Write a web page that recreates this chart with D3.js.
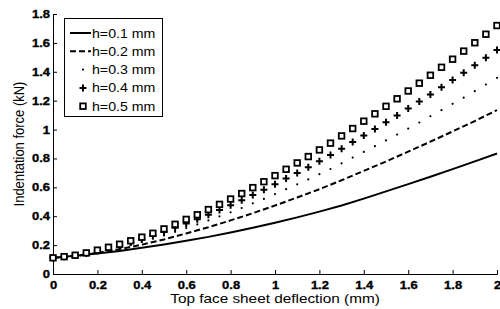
<!DOCTYPE html>
<html>
<head>
<meta charset="utf-8">
<script src="https://cdn.jsdelivr.net/npm/d3@7"></script>
<style>
  body { margin: 0; background: #fff; }
  svg { display: block; font-family: "Liberation Sans", Arial, sans-serif; }
  .axis-title { font-size: 13px; fill: #000; }
  .legend-text { font-size: 12px; fill: #000; }
</style>
</head>
<body>
<div id="chart"></div>
<script>
// Deflection grid for the marker series (every 0.05 mm)
const xMarkers = [0, 0.05, 0.1, 0.15, 0.2, 0.25, 0.3, 0.35, 0.4, 0.45, 0.5, 0.55, 0.6, 0.65, 0.7,
  0.75, 0.8, 0.85, 0.9, 0.95, 1.0, 1.05, 1.1, 1.15, 1.2, 1.25, 1.3, 1.35, 1.4, 1.45, 1.5,
  1.55, 1.6, 1.65, 1.7, 1.75, 1.8, 1.85, 1.9, 1.95, 2.0];

// Deflection grid for the line series (every 0.1 mm)
const xLines = [0, 0.1, 0.2, 0.3, 0.4, 0.5, 0.6, 0.7, 0.8, 0.9, 1.0, 1.1, 1.2, 1.3, 1.4, 1.5,
  1.6, 1.7, 1.8, 1.9, 2.0];

// Indentation force (kN)
const h01 = [0.112, 0.126, 0.142, 0.160, 0.181, 0.204, 0.230, 0.257, 0.288, 0.320, 0.355,
  0.392, 0.432, 0.474, 0.522, 0.572, 0.622, 0.673, 0.726, 0.780, 0.834];

const h02 = [0.112, 0.123, 0.146, 0.172, 0.203, 0.239, 0.281, 0.324, 0.371, 0.421, 0.474,
  0.530, 0.587, 0.649, 0.714, 0.779, 0.847, 0.916, 0.987, 1.059, 1.135];

const h03 = [0.112, 0.118, 0.126, 0.138, 0.153, 0.169, 0.185, 0.203, 0.223, 0.244, 0.267,
  0.292, 0.318, 0.343, 0.371, 0.399, 0.427, 0.457, 0.489, 0.520, 0.553, 0.587, 0.621,
  0.655, 0.691, 0.727, 0.766, 0.806, 0.845, 0.885, 0.925, 0.965, 1.007, 1.049, 1.092,
  1.134, 1.178, 1.221, 1.266, 1.312, 1.358];

const h04 = [0.112, 0.119, 0.128, 0.142, 0.159, 0.177, 0.196, 0.218, 0.240, 0.264, 0.291,
  0.320, 0.350, 0.379, 0.411, 0.443, 0.476, 0.510, 0.547, 0.584, 0.621, 0.661, 0.700,
  0.739, 0.781, 0.823, 0.867, 0.913, 0.959, 1.004, 1.051, 1.097, 1.146, 1.194, 1.243,
  1.293, 1.343, 1.393, 1.445, 1.497, 1.551];

const h05 = [0.112, 0.120, 0.130, 0.146, 0.165, 0.185, 0.206, 0.230, 0.255, 0.282, 0.312,
  0.344, 0.378, 0.410, 0.446, 0.482, 0.519, 0.557, 0.598, 0.639, 0.681, 0.725, 0.769,
  0.813, 0.859, 0.906, 0.956, 1.007, 1.058, 1.109, 1.161, 1.213, 1.267, 1.321, 1.376,
  1.431, 1.487, 1.543, 1.601, 1.660, 1.720];

const legendLabels = ["h=0.1 mm", "h=0.2 mm", "h=0.3 mm", "h=0.4 mm", "h=0.5 mm"];
const xTicks = [0, 0.2, 0.4, 0.6, 0.8, 1, 1.2, 1.4, 1.6, 1.8, 2];
const yTicks = [0, 0.2, 0.4, 0.6, 0.8, 1, 1.2, 1.4, 1.6, 1.8];

const width = 500;
const height = 309;
const margin = { left: 53, right: 3, top: 14, bottom: 35 };
// the original figure is stretched sideways, so text is widened a bit
const stretch = 1.18;

const svg = d3.select("#chart")
  .append("svg")
  .attr("width", width)
  .attr("height", height);

const x = d3.scaleLinear().domain([0, 2]).range([margin.left, width - margin.right]);
const y = d3.scaleLinear().domain([0, 1.8]).range([height - margin.bottom, margin.top]);

// Axes with inward ticks
const xAxis = svg.append("g")
  .attr("transform", `translate(0,${y(0)})`)
  .call(d3.axisBottom(x).tickValues(xTicks).tickSize(-4).tickPadding(7)
    .tickFormat(d => d3.format("~g")(d)));
const yAxis = svg.append("g")
  .attr("transform", `translate(${x(0)},0)`)
  .call(d3.axisLeft(y).tickValues(yTicks).tickSize(-4).tickPadding(2.5)
    .tickFormat(d => d3.format("~g")(d)));

[xAxis, yAxis].forEach(a => {
  a.attr("font-family", "Arial, 'Liberation Sans', sans-serif")
    .attr("font-size", 11)
    .attr("font-weight", "bold");
  a.select(".domain").attr("stroke", "#000").attr("stroke-width", 1);
  a.selectAll(".tick line").attr("stroke", "#000");
  a.selectAll(".tick text")
    .attr("fill", "#000")
    .attr("stroke", "#000")
    .attr("stroke-width", 0.35)
    .attr("transform", `scale(${stretch},1)`);
});

// Axis titles
svg.append("text")
  .attr("class", "axis-title")
  .attr("transform", `translate(${x(1)},303) scale(${stretch},1)`)
  .attr("text-anchor", "middle")
  .text("Top face sheet deflection (mm)");

svg.append("text")
  .attr("class", "axis-title")
  .attr("transform", `translate(24,${y(0.9)}) scale(${stretch},1) rotate(-90)`)
  .attr("text-anchor", "middle")
  .text("Indentation force (kN)");

// Line series
const line = d3.line().x(d => x(d[0])).y(d => y(d[1]));

svg.append("path")
  .datum(xLines.map((v, i) => [v, h01[i]]))
  .attr("d", line)
  .attr("fill", "none")
  .attr("stroke", "#000")
  .attr("stroke-width", 2);

svg.append("path")
  .datum(xLines.map((v, i) => [v, h02[i]]))
  .attr("d", line)
  .attr("fill", "none")
  .attr("stroke", "#000")
  .attr("stroke-width", 2)
  .attr("stroke-dasharray", "6,3");

// Marker series
svg.append("g").selectAll("circle")
  .data(xMarkers.map((v, i) => [v, h03[i]]))
  .join("circle")
  .attr("cx", d => x(d[0]))
  .attr("cy", d => y(d[1]))
  .attr("r", 1.1)
  .attr("fill", "#000");

svg.append("g").selectAll("path")
  .data(xMarkers.map((v, i) => [v, h04[i]]))
  .join("path")
  .attr("transform", d => `translate(${x(d[0])},${y(d[1])})`)
  .attr("d", "M-3.5,0H3.5M0,-3.5V3.5")
  .attr("stroke", "#000")
  .attr("stroke-width", 2);

svg.append("g").selectAll("rect")
  .data(xMarkers.map((v, i) => [v, h05[i]]))
  .join("rect")
  .attr("x", d => x(d[0]) - 2.8)
  .attr("y", d => y(d[1]) - 2.8)
  .attr("width", 5.6)
  .attr("height", 5.6)
  .attr("fill", "#fff")
  .attr("stroke", "#000")
  .attr("stroke-width", 1.8);

// Legend
const legend = svg.append("g");
legend.append("rect")
  .attr("x", 64.5)
  .attr("y", 18.5)
  .attr("width", 98)
  .attr("height", 98)
  .attr("fill", "#fff")
  .attr("stroke", "#000")
  .attr("stroke-width", 1);

const rows = legend.selectAll(".legend-row")
  .data(legendLabels)
  .join("g")
  .attr("class", "legend-row")
  .attr("transform", (d, i) => `translate(0,${33 + i * 18.3})`);

rows.append("text")
  .attr("class", "legend-text")
  .attr("transform", `translate(92,4.5) scale(${stretch},1)`)
  .text(d => d);

rows.filter((d, i) => i === 0).append("line")
  .attr("x1", 70).attr("x2", 91).attr("y1", 0).attr("y2", 0)
  .attr("stroke", "#000").attr("stroke-width", 2);
rows.filter((d, i) => i === 1).append("line")
  .attr("x1", 70).attr("x2", 91).attr("y1", 0).attr("y2", 0)
  .attr("stroke", "#000").attr("stroke-width", 2).attr("stroke-dasharray", "6,3");
rows.filter((d, i) => i === 2).append("circle")
  .attr("cx", 83).attr("cy", 0).attr("r", 1.1).attr("fill", "#000");
rows.filter((d, i) => i === 3).append("path")
  .attr("transform", "translate(83,0)")
  .attr("d", "M-3.5,0H3.5M0,-3.5V3.5")
  .attr("stroke", "#000").attr("stroke-width", 2);
rows.filter((d, i) => i === 4).append("rect")
  .attr("x", 83 - 2.8).attr("y", -2.8).attr("width", 5.6).attr("height", 5.6)
  .attr("fill", "#fff").attr("stroke", "#000").attr("stroke-width", 1.8);
</script>
</body>
</html>
